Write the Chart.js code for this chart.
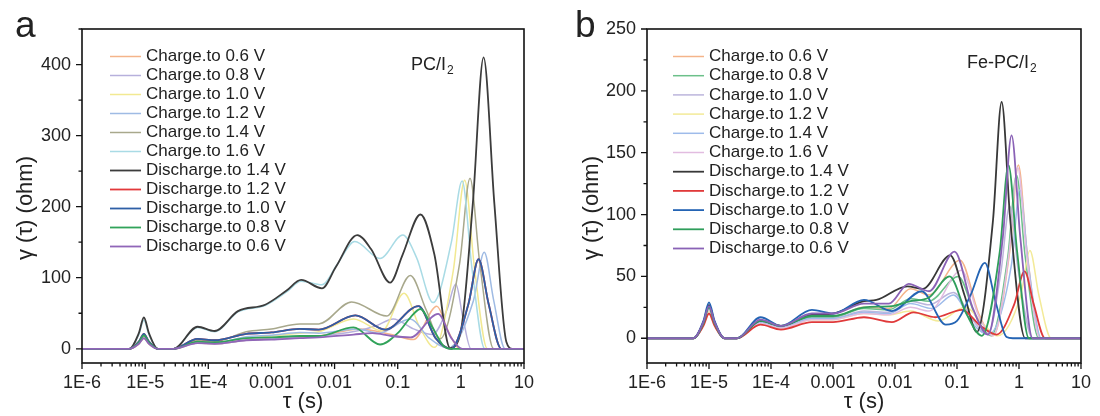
<!DOCTYPE html>
<html>
<head>
<meta charset="utf-8">
<script src="https://cdn.jsdelivr.net/npm/chart.js@4.4.1/dist/chart.umd.min.js"></script>
<style>
  body { margin: 0; background: #fff; }
  canvas { position: absolute; top: 0; }
</style>
</head>
<body>
<canvas id="chartA" width="550" height="416" style="left:0"></canvas>
<canvas id="chartB" width="550" height="416" style="left:550px"></canvas>
<script>
// axis ticks
const xTickValues = [1e-6, 1e-5, 1e-4, 1e-3, 1e-2, 1e-1, 1, 10];
const xTickLabels = ['1E-6', '1E-5', '1E-4', '0.001', '0.01', '0.1', '1', '10'];
const yTicksA = [0, 100, 200, 300, 400];
const yMinorA = [50, 150, 250, 350, 450];
const yTicksB = [0, 50, 100, 150, 200, 250];
const yMinorB = [25, 75, 125, 175, 225];

const seriesNames = ['Charge.to 0.6 V', 'Charge.to 0.8 V', 'Charge.to 1.0 V', 'Charge.to 1.2 V',
  'Charge.to 1.4 V', 'Charge.to 1.6 V', 'Discharge.to 1.4 V', 'Discharge.to 1.2 V',
  'Discharge.to 1.0 V', 'Discharge.to 0.8 V', 'Discharge.to 0.6 V'];

// [log10(tau / s), gamma (ohm)] (PC/I2)
const aCharge06 = [[-6,0],[-5.25,0],[-5.1,7],[-5.02,15],[-4.94,7],[-4.8,0],[-4.55,0],[-4.17,8],[-3.9,7],[-3.4,12],[-3.0,14],[-2.55,16],[-2.25,18],[-1.6,28],[-1.1,20],[-0.75,13],[-0.38,60],[-0.2,25],[-0.02,0],[1,0]];
const aCharge08 = [[-6,0],[-5.25,0],[-5.1,7],[-5.02,15],[-4.94,7],[-4.8,0],[-4.55,0],[-4.17,8],[-3.9,7],[-3.4,12],[-3.0,14],[-2.55,17],[-2.25,18],[-1.65,25],[-1.35,32],[-1.07,42],[-0.75,28],[-0.45,20],[-0.22,55],[-0.08,91],[0.03,45],[0.16,0],[1,0]];
const aCharge10 = [[-6,0],[-5.25,0],[-5.1,7],[-5.02,15],[-4.94,7],[-4.8,0],[-4.55,0],[-4.17,9],[-3.9,8],[-3.4,15],[-3.0,18],[-2.55,22],[-2.25,24],[-1.7,42],[-1.25,25],[-0.9,78],[-0.65,30],[-0.42,2],[-0.12,110],[0.06,237],[0.22,110],[0.42,0],[1,0]];
const aCharge12 = [[-6,0],[-5.25,0],[-5.1,9],[-5.02,19],[-4.94,9],[-4.8,0],[-4.55,0],[-4.17,10],[-3.9,8],[-3.4,17],[-3.0,19],[-2.55,23],[-2.25,22],[-1.65,28],[-1.3,22],[-0.8,42],[-0.5,15],[-0.2,1],[0.2,68],[0.37,136],[0.52,68],[0.7,0],[1,0]];
const aCharge14 = [[-6,0],[-5.25,0],[-5.1,9],[-5.02,18],[-4.94,9],[-4.8,0],[-4.55,0],[-4.17,12],[-3.9,10],[-3.4,24],[-3.0,28],[-2.55,35],[-2.25,35],[-1.73,66],[-1.17,46],[-0.8,103],[-0.55,55],[-0.33,14],[-0.02,120],[0.145,240],[0.3,120],[0.52,0],[1,0]];
const aCharge16 = [[-6,0],[-5.25,0],[-5.1,20],[-5.02,40],[-4.94,20],[-4.8,0],[-4.55,0],[-4.17,30],[-3.9,24],[-3.53,52],[-3.1,61],[-2.76,80],[-2.53,95],[-2.2,90],[-1.95,120],[-1.68,151],[-1.28,127],[-0.92,160],[-0.7,128],[-0.44,65],[-0.15,150],[0.02,236],[0.18,110],[0.38,0],[1,0]];
const aDischarge14 = [[-6,0],[-5.25,0],[-5.1,22],[-5.02,44],[-4.94,22],[-4.8,0],[-4.55,0],[-4.17,31],[-3.9,25],[-3.53,53],[-3.1,62],[-2.76,82],[-2.53,97],[-2.2,85],[-1.98,115],[-1.64,160],[-1.42,140],[-1.12,93],[-0.92,133],[-0.64,189],[-0.42,133],[-0.17,1],[0.0,25],[0.19,205],[0.36,410],[0.53,205],[0.72,10],[0.82,0],[1,0]];
const aDischarge12 = [[-6,0],[-5.25,0],[-5.1,10],[-5.02,21],[-4.94,10],[-4.8,0],[-4.55,0],[-4.17,14],[-3.9,12],[-3.4,21],[-3.0,23],[-2.55,28],[-2.25,27],[-1.67,47],[-1.2,27],[-0.67,60],[-0.4,15],[-0.15,0],[0.12,63],[0.28,126],[0.44,63],[0.64,0],[1,0]];
const aDischarge10 = [[-6,0],[-5.25,0],[-5.1,10],[-5.02,21],[-4.94,10],[-4.8,0],[-4.55,0],[-4.17,14],[-3.9,12],[-3.4,21],[-3.0,23],[-2.55,28],[-2.25,27],[-1.67,47],[-1.2,27],[-0.67,60],[-0.4,15],[-0.15,0],[0.12,63],[0.28,126],[0.44,63],[0.64,0],[1,0]];
const aDischarge08 = [[-6,0],[-5.25,0],[-5.1,9],[-5.02,19],[-4.94,9],[-4.8,0],[-4.55,0],[-4.17,10],[-3.9,9],[-3.4,15],[-3.0,16],[-2.55,18],[-2.25,18],[-1.7,30],[-1.28,6],[-1.0,22],[-0.8,44],[-0.64,56],[-0.45,30],[-0.25,2],[-0.15,0],[1,0]];
const aDischarge06 = [[-6,0],[-5.25,0],[-5.1,7],[-5.02,15],[-4.94,7],[-4.8,0],[-4.55,0],[-4.17,8],[-3.9,7],[-3.4,12],[-3.0,13],[-2.55,15],[-2.25,16],[-1.7,20],[-1.4,22],[-1.1,18],[-0.8,16],[-0.36,49],[-0.15,15],[0.02,0],[1,0]];

// [log10(tau / s), gamma (ohm)] (Fe-PC/I2)
const bCharge06 = [[-6,0],[-5.25,0],[-5.09,12],[-5.0,24],[-4.91,12],[-4.75,0],[-4.55,0],[-4.17,13],[-3.84,9],[-3.34,17],[-3.0,17],[-2.5,25],[-2.1,24],[-1.75,40],[-1.45,35],[-0.95,63],[-0.65,20],[-0.42,2],[-0.15,70],[-0.01,140],[0.13,70],[0.35,0],[1,0]];
const bCharge08 = [[-6,0],[-5.25,0],[-5.09,12],[-5.0,24],[-4.91,12],[-4.75,0],[-4.55,0],[-4.17,13],[-3.84,9],[-3.34,17],[-3.0,17],[-2.5,24],[-2.1,23],[-1.75,32],[-1.45,30],[-0.98,50],[-0.7,18],[-0.45,2],[-0.18,66],[-0.04,132],[0.1,66],[0.32,0],[1,0]];
const bCharge10 = [[-6,0],[-5.25,0],[-5.09,11],[-5.0,23],[-4.91,11],[-4.75,0],[-4.55,0],[-4.17,12],[-3.84,9],[-3.34,16],[-3.0,16],[-2.5,22],[-2.1,21],[-1.75,30],[-1.45,27],[-1.06,37],[-0.75,15],[-0.5,3],[-0.29,54],[-0.15,107],[-0.01,54],[0.22,0],[1,0]];
const bCharge12 = [[-6,0],[-5.25,0],[-5.09,11],[-5.0,22],[-4.91,11],[-4.75,0],[-4.55,0],[-4.17,12],[-3.84,8],[-3.34,15],[-3.0,15],[-2.5,20],[-2.1,19],[-1.75,22],[-1.3,14],[-0.87,25],[-0.55,10],[-0.35,2],[0.03,35],[0.176,71],[0.32,35],[0.52,0],[1,0]];
const bCharge14 = [[-6,0],[-5.25,0],[-5.09,12],[-5.0,25],[-4.91,12],[-4.75,0],[-4.55,0],[-4.17,13],[-3.84,9],[-3.34,16],[-3.0,16],[-2.5,21],[-2.1,20],[-1.75,28],[-1.4,24],[-1.06,35],[-0.75,12],[-0.5,3],[-0.12,60],[0.013,120],[0.15,60],[0.36,0],[1,0]];
const bCharge16 = [[-6,0],[-5.25,0],[-5.09,11],[-5.0,23],[-4.91,11],[-4.75,0],[-4.55,0],[-4.17,12],[-3.84,8],[-3.34,15],[-3.0,15],[-2.5,20],[-2.1,19],[-1.75,25],[-1.45,22],[-0.93,55],[-0.65,18],[-0.42,2],[-0.16,69],[-0.02,138],[0.12,69],[0.34,0],[1,0]];
const bDischarge14 = [[-6,0],[-5.25,0],[-5.09,13],[-5.0,27],[-4.91,13],[-4.75,0],[-4.55,0],[-4.17,14],[-3.84,10],[-3.34,19],[-3.0,20],[-2.5,30],[-2.3,31],[-1.8,42],[-1.55,40],[-1.11,67],[-0.88,35],[-0.68,5],[-0.42,95],[-0.28,191],[-0.14,95],[0.1,0],[1,0]];
const bDischarge12 = [[-6,0],[-5.25,0],[-5.09,10],[-5.0,20],[-4.91,10],[-4.75,0],[-4.55,0],[-4.17,11],[-3.84,7],[-3.34,13],[-3.0,13],[-2.5,17],[-2.05,13],[-1.7,21],[-1.35,17],[-0.92,23],[-0.62,10],[-0.36,3],[-0.08,27],[0.09,54],[0.24,27],[0.42,0],[1,0]];
const bDischarge10 = [[-6,0],[-5.25,0],[-5.09,14],[-5.0,29],[-4.91,14],[-4.75,0],[-4.55,0],[-4.17,17],[-3.84,10],[-3.34,23],[-3.0,20],[-2.5,31],[-2.05,22],[-1.57,38],[-1.18,11],[-1.0,14],[-0.78,35],[-0.55,61],[-0.38,30],[-0.2,1],[-0.1,0],[1,0]];
const bDischarge08 = [[-6,0],[-5.25,0],[-5.09,12],[-5.0,25],[-4.91,12],[-4.75,0],[-4.55,0],[-4.17,14],[-3.84,10],[-3.34,18],[-3.0,18],[-2.5,25],[-2.05,26],[-1.75,30],[-1.45,33],[-1.12,50],[-0.85,20],[-0.6,2],[-0.31,70],[-0.17,140],[-0.03,70],[0.16,0],[1,0]];
const bDischarge06 = [[-6,0],[-5.25,0],[-5.09,13],[-5.0,26],[-4.91,13],[-4.75,0],[-4.55,0],[-4.17,15],[-3.84,10],[-3.34,20],[-3.0,20],[-2.5,28],[-2.1,28],[-1.78,44],[-1.45,38],[-1.04,70],[-0.75,25],[-0.5,3],[-0.26,82],[-0.12,164],[0.02,82],[0.22,0],[1,0]];

const seriesA = [aCharge06, aCharge08, aCharge10, aCharge12, aCharge14, aCharge16,
  aDischarge14, aDischarge12, aDischarge10, aDischarge08, aDischarge06];
const seriesB = [bCharge06, bCharge08, bCharge10, bCharge12, bCharge14, bCharge16,
  bDischarge14, bDischarge12, bDischarge10, bDischarge08, bDischarge06];

const colorsA = ['#f4b48a', '#b7b0dc', '#f2e992', '#9fbbe4', '#a8a88c', '#a9dbe5',
  '#3c3c3c', '#e2393b', '#2e5fa6', '#31a35a', '#9066b8'];
const colorsB = ['#f4b48a', '#6cc08a', '#bcb5dc', '#f3ea98', '#9ebbea', '#e2bce0',
  '#383838', '#e0393a', '#2464b4', '#2f9e5b', '#8a62b6'];

const FONT = '"Liberation Sans", Arial, Helvetica, sans-serif';

function toPoints(pairs) {
  return pairs.map(p => ({ x: Math.pow(10, p[0]), y: p[1] }));
}

// box, tick marks, legend and labels
const decoration = {
  id: 'decoration',
  afterDatasetsDraw(chart, args, opts) {
    const { ctx, chartArea: ca, scales: { x, y } } = chart;
    ctx.save();
    ctx.strokeStyle = '#111';
    ctx.lineWidth = 1.6;
    ctx.strokeRect(ca.left, ca.top, ca.right - ca.left, ca.bottom - ca.top);

    ctx.lineWidth = 1.3;
    ctx.beginPath();
    xTickValues.forEach(v => {
      const px = x.getPixelForValue(v);
      ctx.moveTo(px, ca.bottom); ctx.lineTo(px, ca.bottom + 6);
    });
    xTickValues.slice(0, -1).forEach(dec => {
      for (let k = 2; k <= 9; k++) {
        const px = x.getPixelForValue(dec * k);
        ctx.moveTo(px, ca.bottom); ctx.lineTo(px, ca.bottom + 3.5);
      }
    });
    opts.yMajor.forEach(v => {
      const py = y.getPixelForValue(v);
      ctx.moveTo(ca.left, py); ctx.lineTo(ca.left - 6, py);
    });
    opts.yMinor.forEach(v => {
      const py = y.getPixelForValue(v);
      ctx.moveTo(ca.left, py); ctx.lineTo(ca.left - 3.5, py);
    });
    ctx.stroke();

    // legend
    ctx.font = '17px ' + FONT;
    ctx.textBaseline = 'middle';
    ctx.textAlign = 'left';
    chart.data.datasets.forEach((ds, i) => {
      const ly = opts.legendTop + i * opts.legendGap;
      ctx.strokeStyle = ds.borderColor;
      ctx.lineWidth = ds.borderWidth;
      ctx.beginPath();
      ctx.moveTo(opts.legendX, ly); ctx.lineTo(opts.legendX + 31, ly);
      ctx.stroke();
      ctx.fillStyle = '#222';
      ctx.fillText(ds.label, opts.legendX + 36, ly);
    });

    // sample name with subscript
    ctx.font = '18px ' + FONT;
    ctx.fillText(opts.sample, opts.sampleX, opts.sampleY);
    const w = ctx.measureText(opts.sample).width;
    ctx.font = '12px ' + FONT;
    ctx.fillText('2', opts.sampleX + w + 1, opts.sampleY + 6);

    // panel letter
    ctx.font = '37px ' + FONT;
    ctx.textBaseline = 'alphabetic';
    ctx.fillText(opts.letter, opts.letterX, 37);

    // axis titles
    ctx.font = '22px ' + FONT;
    ctx.textAlign = 'center';
    ctx.textBaseline = 'middle';
    ctx.fillText('\u03c4 (s)', (ca.left + ca.right) / 2, 402);
    ctx.translate(opts.yTitleX, 208);
    ctx.rotate(-Math.PI / 2);
    ctx.fillText('\u03b3 (\u03c4) (ohm)', 0, 0);
    ctx.restore();
  }
};

function makeChart(id, series, colors, yMin, yMax, yMajor, yMinor, yWidth, rightPad, opts) {
  const n = series.length;
  const datasets = series.map((s, i) => ({
    label: seriesNames[i],
    data: toPoints(s),
    borderColor: colors[i],
    borderWidth: i >= 6 ? 1.8 : 1.5,
    pointRadius: 0,
    fill: false,
    cubicInterpolationMode: 'monotone',
    order: n - i
  }));
  return new Chart(document.getElementById(id), {
    type: 'line',
    data: { datasets },
    options: {
      responsive: false,
      devicePixelRatio: 1,
      animation: false,
      layout: { padding: { left: 0, right: rightPad, top: 29, bottom: 0 } },
      plugins: {
        legend: { display: false },
        tooltip: { enabled: false },
        decoration: Object.assign({ yMajor, yMinor }, opts)
      },
      scales: {
        x: {
          type: 'logarithmic',
          min: 1e-6, max: 10,
          grid: { display: false, drawTicks: false },
          border: { display: false },
          afterBuildTicks: scale => { scale.ticks = xTickValues.map(v => ({ value: v })); },
          afterFit: scale => { scale.height = 53; },
          ticks: {
            autoSkip: false, maxRotation: 0, padding: 9,
            color: '#222', font: { family: FONT, size: 18 },
            callback: (v, i) => xTickLabels[i]
          }
        },
        y: {
          min: yMin, max: yMax,
          grid: { display: false, drawTicks: false },
          border: { display: false },
          afterBuildTicks: scale => { scale.ticks = yMajor.map(v => ({ value: v })); },
          afterFit: scale => { scale.width = yWidth; },
          ticks: {
            padding: 11, color: '#222', font: { family: FONT, size: 18 },
            callback: v => String(v)
          }
        }
      }
    },
    plugins: [decoration]
  });
}

makeChart('chartA', seriesA, colorsA, -20, 450, yTicksA, yMinorA, 82, 26, {
  legendX: 110, legendTop: 56.5, legendGap: 19, sample: 'PC/I', sampleX: 411, sampleY: 65,
  letter: 'a', letterX: 15, yTitleX: 26
});
makeChart('chartB', seriesB, colorsB, -20, 250, yTicksB, yMinorB, 97, 11, {
  legendX: 123, legendTop: 56.5, legendGap: 19.2, sample: 'Fe-PC/I', sampleX: 417, sampleY: 63,
  letter: 'b', letterX: 25, yTitleX: 42
});
</script>
</body>
</html>
